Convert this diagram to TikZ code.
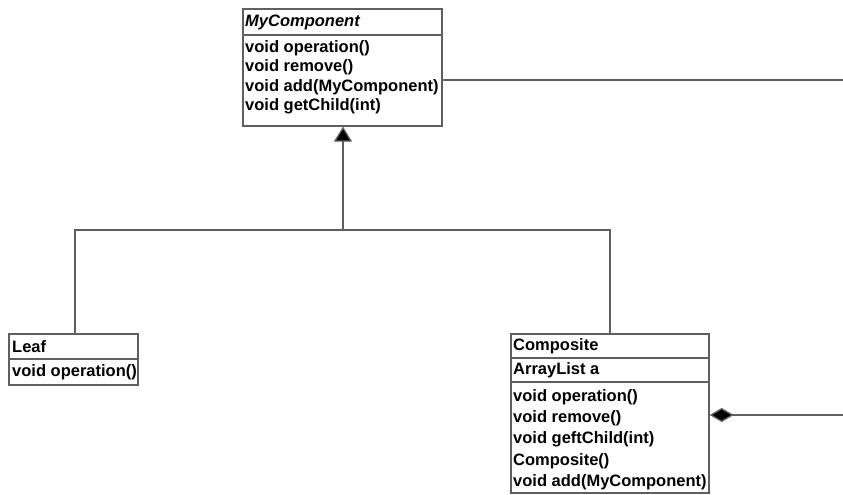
\documentclass[tikz,border=0pt]{standalone}
\usepackage{fontspec}
\setmainfont{Liberation Sans}
\usetikzlibrary{arrows.meta}
\definecolor{ln}{RGB}{95,95,95}
\begin{document}
\begin{tikzpicture}[x=1pt,y=-1pt,
  box/.style={draw=ln,line width=1.3pt,rectangle,inner sep=0pt},
  txt/.style={anchor=west,inner sep=0pt,font=\fontsize{16.5}{18}\selectfont\bfseries},
  conn/.style={draw=ln,line width=1.3pt}]
\useasboundingbox (0,0) rectangle (843,495);
% MyComponent
\node[box,minimum width=199pt,minimum height=117pt] (mc) at (342.5,67.5) {};
\draw[conn] (mc.west |- 0,35) -- (mc.east |- 0,35);
\node[txt,font=\fontsize{16.5}{18}\selectfont\bfseries\itshape] (mct) at (245,22) {MyComponent};
\node[txt] (m1) at (245,48) {void operation()};
\node[txt] (m2) at (245,67.5) {void remove()};
\node[txt] (m3) at (245,87) {void add(MyComponent)};
\node[txt] (m4) at (245,106.5) {void getChild(int)};
% Leaf
\node[box,minimum width=129pt,minimum height=51pt] (leaf) at (73.5,359.5) {};
\draw[conn] (leaf.west |- 0,359) -- (leaf.east |- 0,359);
\node[txt] (lt) at (12,347) {Leaf};
\node[txt] (l1) at (12,372) {void operation()};
% Composite
\node[box,minimum width=198pt,minimum height=159pt] (comp) at (610,413.5) {};
\draw[conn] (comp.west |- 0,358) -- (comp.east |- 0,358);
\draw[conn] (comp.west |- 0,382) -- (comp.east |- 0,382);
\node[txt] (ct) at (513,346) {Composite};
\node[txt] (ca) at (513,370) {ArrayList a};
\node[txt] (c1) at (513,397) {void operation()};
\node[txt] (c2) at (513,418) {void remove()};
\node[txt] (c3) at (513,439.5) {void geftChild(int)};
\node[txt] (c4) at (513,461) {Composite()};
\node[txt] (c5) at (513,482) {void add(MyComponent)};
% connectors
\coordinate (jl) at (75,230);
\coordinate (jm) at (343,230);
\coordinate (jr) at (610,230);
\draw[conn] (jl |- leaf.north) -- (jl) -- (jr) -- (jr |- comp.north);
\draw[conn,-{Triangle[length=15pt,width=18pt,fill=black]}] (jm) -- (jm |- mc.south);
\coordinate (r1) at (843,80);
\draw[conn] (mc.east |- r1) -- (r1);
\coordinate (r2) at (843,415);
\draw[conn,{Diamond[length=24pt,width=14pt,fill=black]}-] (comp.east |- r2) -- (r2);
\end{tikzpicture}
\end{document}
